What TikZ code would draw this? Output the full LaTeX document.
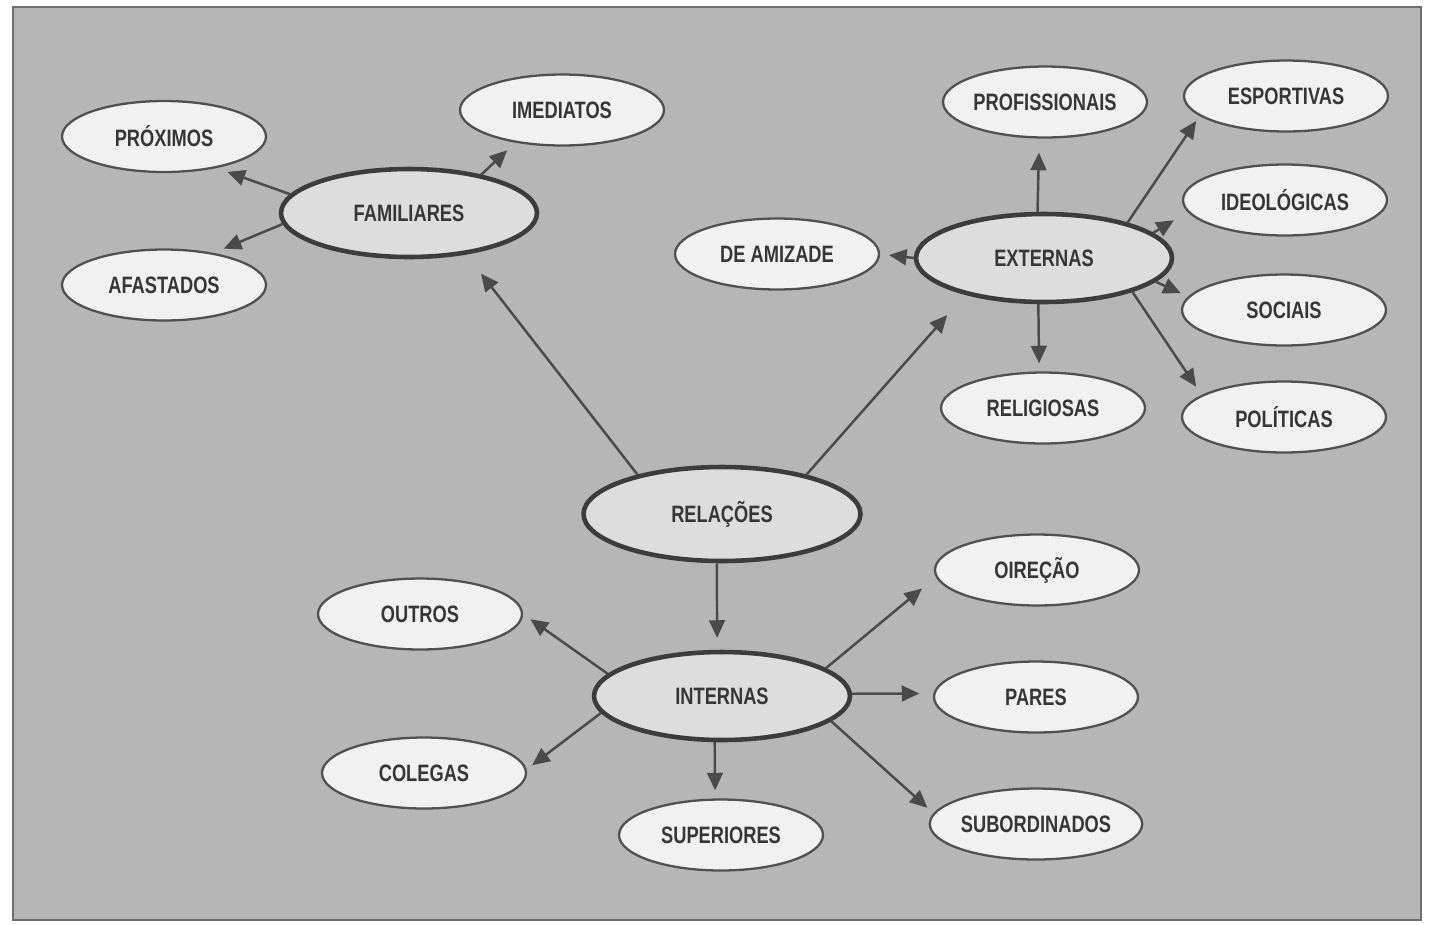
\documentclass[tikz,border=0pt]{standalone}
\usepackage{fontspec}
\newfontfamily\lblfont{Liberation Sans}[FakeStretch=0.77]
\usetikzlibrary{arrows.meta,shapes.geometric}
\definecolor{bgc}{HTML}{B6B6B6}
\definecolor{framec}{HTML}{707070}
\definecolor{txtc}{HTML}{363636}
\definecolor{arrc}{HTML}{4A4A4A}
\definecolor{subedge}{HTML}{505050}
\definecolor{mainedge}{HTML}{3C3C3C}
\definecolor{subfill}{HTML}{F1F1F1}
\definecolor{mainfill}{HTML}{DDDDDD}
\begin{document}
\begin{tikzpicture}[x=0.02cm,y=-0.02cm,
  subnode/.style={ellipse, draw=subedge, line width=1.3pt, fill=subfill,
    minimum width=4.08cm, minimum height=1.42cm, inner sep=0pt,
    font=\lblfont\bfseries\fontsize{13.5}{15}\selectfont, text=txtc},
  mainnode/.style={subnode, draw=mainedge, line width=2.6pt, fill=mainfill,
    minimum width=5.12cm, minimum height=1.76cm},
  arr/.style={-{Triangle[length=10pt,width=9pt]}, line width=1.4pt, draw=arrc, fill=arrc}]
\useasboundingbox (0,0) rectangle (1429,924);
\fill[white] (0,0) rectangle (1429,924);
\filldraw[fill=bgc, draw=framec, line width=1.6pt] (13,7) rectangle (1421,920);

% main nodes
\node[mainnode] (fam) at (409,213) {FAMILIARES};
\node[mainnode] (ext) at (1044,258) {EXTERNAS};
\node[mainnode, minimum width=5.54cm, minimum height=1.88cm] (rel) at (722,514) {RELAÇÕES};
\node[mainnode] (int) at (722,696) {INTERNAS};

% familiares
\node[subnode] (prox) at (164,136.5) {PRÓXIMOS};
\node[subnode] (afast) at (164,285) {AFASTADOS};
\node[subnode] (imed) at (562,110) {IMEDIATOS};

% externas
\node[subnode] (deam) at (777,254) {DE AMIZADE};
\node[subnode] (prof) at (1045,102) {PROFISSIONAIS};
\node[subnode] (esp) at (1286,96) {ESPORTIVAS};
\node[subnode] (ideo) at (1285,200) {IDEOLÓGICAS};
\node[subnode] (soc) at (1284,310) {SOCIAIS};
\node[subnode] (pol) at (1284,417) {POLÍTICAS};
\node[subnode] (relig) at (1043,408) {RELIGIOSAS};

% internas
\node[subnode] (oir) at (1037,570) {OIREÇÃO};
\node[subnode] (out) at (420,614) {OUTROS};
\node[subnode] (pares) at (1036,697) {PARES};
\node[subnode] (col) at (424,773) {COLEGAS};
\node[subnode] (sup) at (721,835) {SUPERIORES};
\node[subnode] (sub) at (1036,824) {SUBORDINADOS};

% arrows
\draw[arr, shorten >=6.6pt] (fam.171.5) -- (prox.-31);
\draw[arr, shorten >=6.3pt] (fam.185) -- (afast.33);
\draw[arr, shorten >=6.3pt] (fam.28.7) -- (imed.215.6);
\draw[arr, shorten >=13.7pt] (rel.155) -- (fam.-36.5);
\draw[arr, shorten >=15.4pt] (rel.25) -- (ext.205.4);
\draw[arr, shorten >=5.1pt] (ext.180) -- (deam.0);
\draw[arr, shorten >=8pt] (ext.98) -- (prof.-99.5);
\draw[arr, shorten >=4.6pt] (ext.-97) -- (relig.96);
\draw[arr, shorten >=3.4pt] (ext.23.2) -- (esp.193);
\draw[arr, shorten >=9.1pt] (ext.13.3) -- (ideo.187.7);
\draw[arr, shorten >=4.6pt] (ext.-12.6) -- (soc.172.9);
\draw[arr, shorten >=5.7pt] (ext.-21.7) -- (pol.165.2);
\draw[arr, shorten >=6.8pt] (rel.-96) -- (int.96.5);
\draw[arr, shorten >=5.1pt] (int.169.6) -- (out.0);
\draw[arr, shorten >=4pt] (int.188) -- (col.2.6);
\draw[arr, shorten >=4.6pt] (int.-99) -- (sup.99.7);
\draw[arr, shorten >=10.2pt] (int.15.2) -- (oir.184.8);
\draw[arr, shorten >=8pt] (int.1.4) -- (pares.178);
\draw[arr, shorten >=4.6pt] (int.-13) -- (sub.174.2);
\end{tikzpicture}
\end{document}
